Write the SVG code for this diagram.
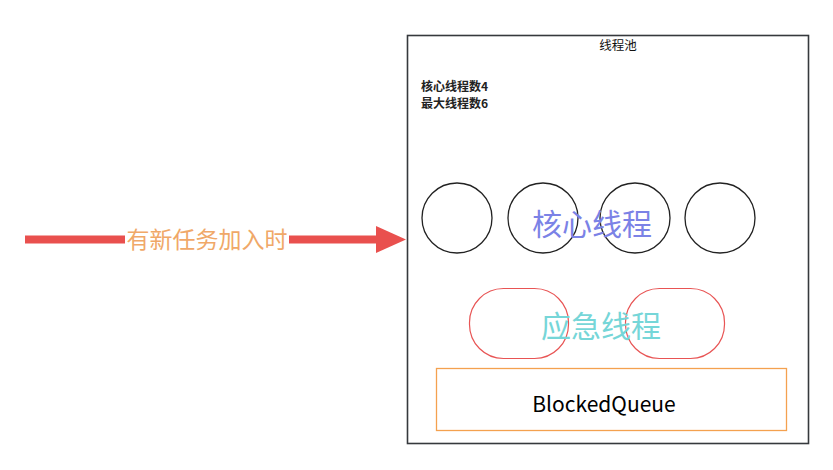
<svg xmlns="http://www.w3.org/2000/svg" width="833" height="470" viewBox="0 0 833 470">
<style>
text{font-family:"Noto Sans CJK SC","Microsoft YaHei",sans-serif}
.core{fill:none;stroke:#222;stroke-width:1.3}
.emg{fill:none;stroke:#e85454;stroke-width:1.2}
</style>
<rect width="833" height="470" fill="#fff"/>
<g id="pool">
<rect x="407.5" y="35.5" width="401" height="408" fill="none" stroke="#36393d" stroke-width="1.6"/>
<text x="618" y="50" font-size="12.5" text-anchor="middle" fill="#111">线程池</text>
<text x="421" y="90.5" font-size="12" font-weight="bold" fill="#222">核心线程数4</text>
<text x="421" y="108" font-size="12" font-weight="bold" fill="#222">最大线程数6</text>
</g>
<g id="core-threads">
<circle class="core" cx="457" cy="218" r="35"/>
<circle class="core" cx="543" cy="218" r="35"/>
<circle class="core" cx="635" cy="218" r="35"/>
<circle class="core" cx="720" cy="218" r="35"/>
<text x="592" y="235" font-size="30" text-anchor="middle" fill="#7b82e6">核心线程</text>
</g>
<g id="emergency-threads">
<rect class="emg" x="469.5" y="288.5" width="99" height="70" rx="34" ry="34"/>
<rect class="emg" x="625.5" y="288.5" width="99" height="70" rx="34" ry="34"/>
<text x="601" y="337" font-size="30" text-anchor="middle" fill="#76d6d8">应急线程</text>
</g>
<g id="queue">
<rect x="436.5" y="368.5" width="350" height="62" fill="none" stroke="#f4a14f" stroke-width="1.3"/>
<text x="604" y="412" font-size="21" text-anchor="middle" fill="#000" font-family="'Open Sans','Noto Sans',sans-serif">BlockedQueue</text>
</g>
<g id="connectors">
<line x1="25" y1="239.5" x2="380" y2="239.5" stroke="#e9504e" stroke-width="8"/>
<polygon points="376,226 406,239.5 376,253" fill="#e9504e"/>
<rect x="125" y="225" width="164" height="30" fill="#fff"/>
<text x="207" y="248" font-size="23" text-anchor="middle" fill="#f0a868">有新任务加入时</text>
</g>
</svg>
